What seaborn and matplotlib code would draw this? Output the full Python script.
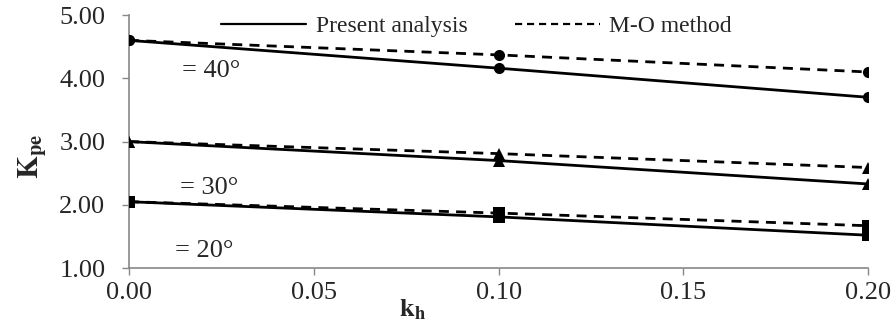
import pandas as pd
import seaborn as sns
import matplotlib.pyplot as plt
from matplotlib.lines import Line2D

kh = [0.00, 0.10, 0.20]
angles = ["40", "30", "20"]
markers = {"40": "o", "30": "^", "20": "s"}
present = {"40": [4.60, 4.16, 3.70],
           "30": [3.00, 2.70, 2.33],
           "20": [2.05, 1.81, 1.52]}
mo_method = {"40": [4.60, 4.37, 4.10],
             "30": [3.00, 2.81, 2.59],
             "20": [2.05, 1.87, 1.67]}
angle_labels = ["= 40°", "= 30°", "= 20°"]
label_pos = [(0.0143, 4.12), (0.0138, 2.26), (0.0125, 1.27)]
xticks = [0.00, 0.05, 0.10, 0.15, 0.20]
yticks = [1, 2, 3, 4, 5]

rows = []
for a in angles:
    for x, p, m in zip(kh, present[a], mo_method[a]):
        rows.append({"kh": x, "Kpe": p, "angle": a, "method": "Present analysis"})
        rows.append({"kh": x, "Kpe": m, "angle": a, "method": "M-O method"})
df = pd.DataFrame(rows)

sns.set_style("white")
plt.rcParams["font.family"] = ["Liberation Serif", "DejaVu Serif"]
plt.rcParams["mathtext.fontset"] = "stix"

fig = plt.figure(figsize=(8.96, 3.27), dpi=100)
ax = fig.add_axes([0.144, 0.180, 0.825, 0.774])

for a in angles:
    for meth, ls in [("M-O method", (0, (3.6, 2.6))), ("Present analysis", "-")]:
        sub = df[(df["angle"] == a) & (df["method"] == meth)]
        sns.lineplot(data=sub, x="kh", y="Kpe", ax=ax, color="black",
                     linestyle=ls, linewidth=2.0, marker=markers[a],
                     markersize=8, markeredgewidth=0, legend=False)

for txt, (x, y) in zip(angle_labels, label_pos):
    ax.text(x, y, txt, fontsize=19, va="center", ha="left")

ax.set_xlim(0, 0.2)
ax.set_ylim(1, 5)
ax.set_xticks(xticks)
ax.set_yticks(yticks)
ax.set_xticklabels([f"{v:.2f}" for v in xticks])
ax.set_yticklabels([f"{v:.2f}" for v in yticks])
ax.tick_params(axis="both", labelsize=19, direction="out", length=5,
               width=1, color="#888888", bottom=True, left=True)
ax.tick_params(axis="x", pad=5)
ax.tick_params(axis="y", pad=12)
for s in ["top", "right"]:
    ax.spines[s].set_visible(False)
for s in ["left", "bottom"]:
    ax.spines[s].set_color("#888888")
    ax.spines[s].set_linewidth(1.2)
ax.spines["left"].set_zorder(0)

ax.set_xlabel(r"$\mathbf{k_h}$", fontsize=19)
ax.xaxis.set_label_coords(0.384, -0.115)
ax.set_ylabel(r"$\mathbf{K_{pe}}$", fontsize=21)
ax.yaxis.set_label_coords(-0.11, 0.44)

handles = [Line2D([], [], color="black", lw=1.6, ls="-"),
           Line2D([], [], color="black", lw=1.6, ls=(0, (3.2, 2.2)))]
ax.legend(handles, ["Present analysis", "M-O method"], ncol=2, frameon=False,
          fontsize=17, handlelength=3.6, columnspacing=2.0, handletextpad=0.4,
          loc="center", bbox_to_anchor=(0.47, 0.955))

fig.savefig("out.png", dpi=100)
